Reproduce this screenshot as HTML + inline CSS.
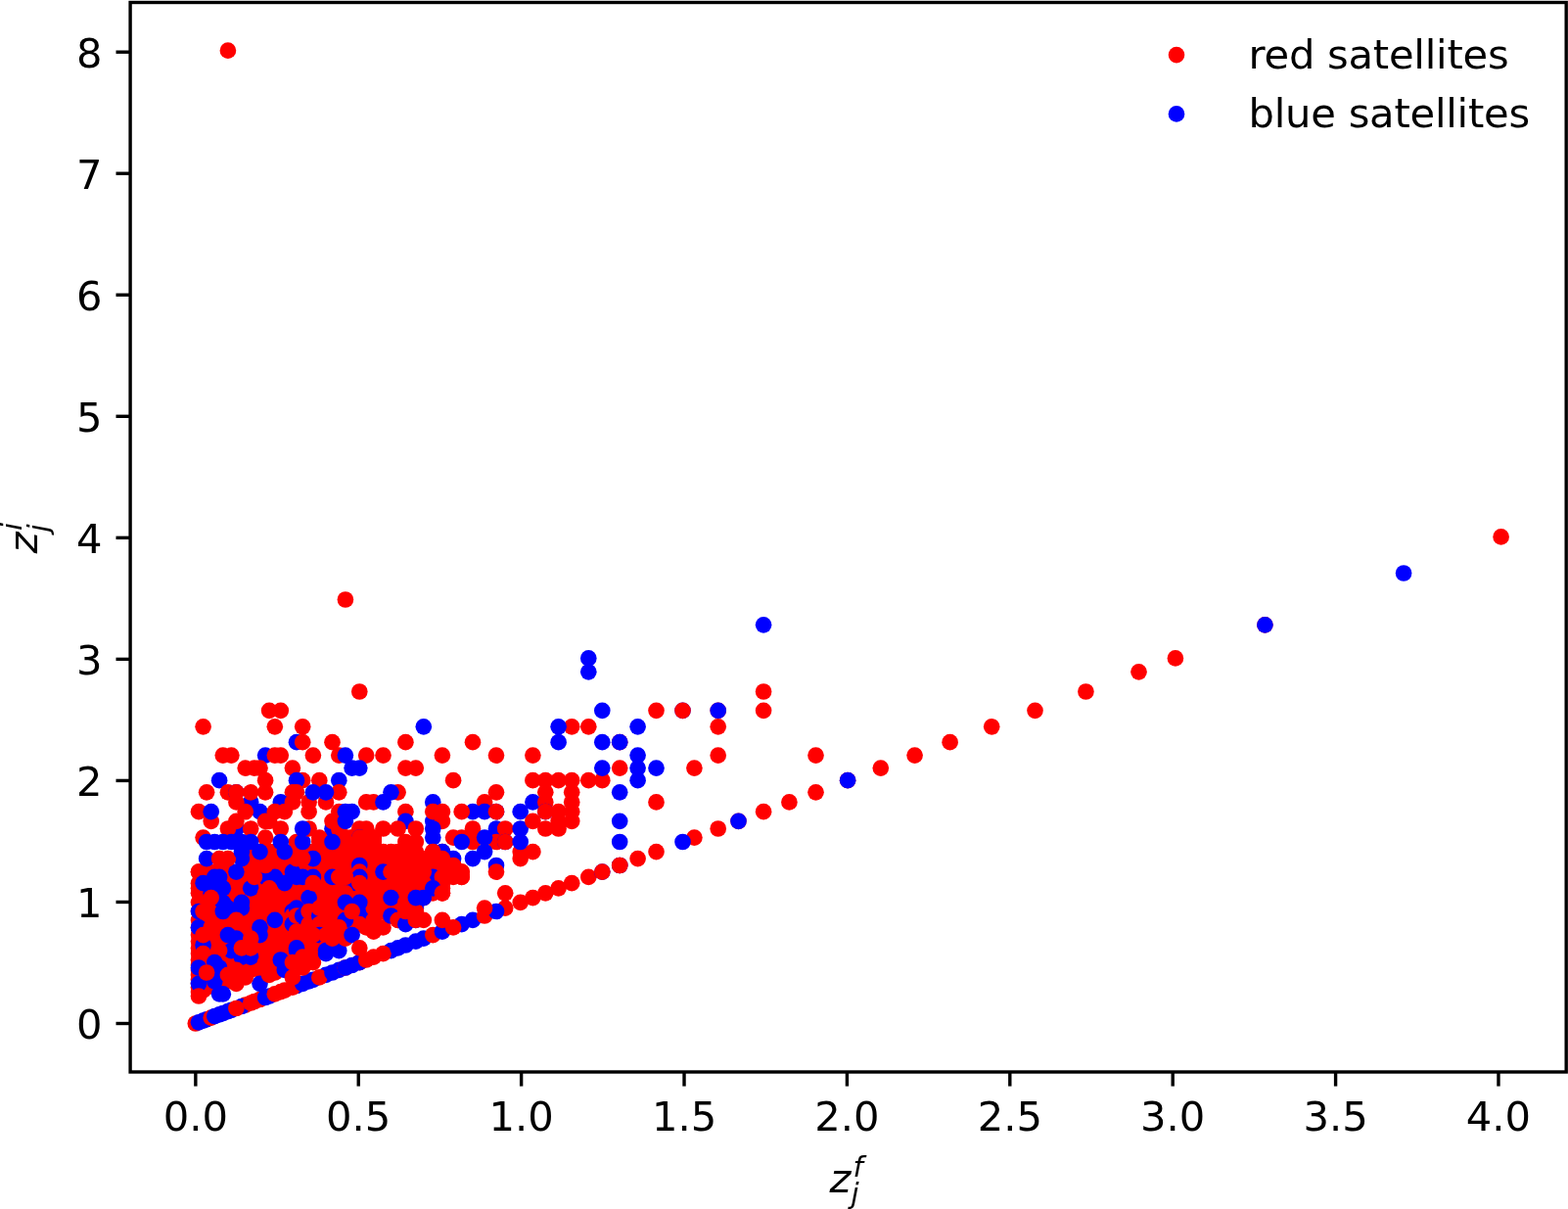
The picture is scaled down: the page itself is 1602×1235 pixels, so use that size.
<!DOCTYPE html>
<html lang="en">
<head>
<meta charset="utf-8">
<title>Satellite redshifts</title>
<style>
html,body{margin:0;padding:0;background:#fff;}
body{width:1602px;height:1235px;overflow:hidden;}
svg{display:block;}
text{font-family:"DejaVu Sans","Liberation Sans",sans-serif;fill:#000;}
.t{font-size:41.67px;}
.m{font-style:italic;}
.r{fill:#f00;}
.b{fill:#00f;}
</style>
</head>
<body>
<svg width="1602" height="1235" viewBox="0 0 1602 1235">
<rect x="0" y="0" width="1602" height="1235" fill="#fff"/>
<g id="pts">
<circle class="r" cx="203.0" cy="1013.1" r="8.33"/><circle class="r" cx="203.0" cy="1008.6" r="8.33"/><circle class="r" cx="203.0" cy="1004.8" r="8.33"/><circle class="r" cx="203.0" cy="1000.8" r="8.33"/>
<circle class="r" cx="203.0" cy="995.9" r="8.33"/><circle class="r" cx="203.0" cy="990.9" r="8.33"/><circle class="r" cx="203.0" cy="986.0" r="8.33"/><circle class="r" cx="203.0" cy="980.5" r="8.33"/>
<circle class="r" cx="203.0" cy="974.1" r="8.33"/><circle class="r" cx="203.0" cy="968.4" r="8.33"/><circle class="r" cx="203.0" cy="961.6" r="8.33"/><circle class="r" cx="203.0" cy="955.1" r="8.33"/>
<circle class="r" cx="203.0" cy="947.4" r="8.33"/><circle class="r" cx="203.0" cy="939.9" r="8.33"/><circle class="r" cx="203.0" cy="931.0" r="8.33"/><circle class="r" cx="203.0" cy="921.8" r="8.33"/>
<circle class="r" cx="203.0" cy="912.3" r="8.33"/><circle class="r" cx="203.0" cy="902.2" r="8.33"/><circle class="r" cx="203.0" cy="890.6" r="8.33"/><circle class="r" cx="207.6" cy="1011.6" r="8.33"/>
<circle class="r" cx="207.6" cy="1007.0" r="8.33"/><circle class="r" cx="207.6" cy="1002.4" r="8.33"/><circle class="r" cx="207.6" cy="998.4" r="8.33"/><circle class="r" cx="207.6" cy="993.5" r="8.33"/>
<circle class="r" cx="207.6" cy="988.5" r="8.33"/><circle class="r" cx="207.6" cy="983.1" r="8.33"/><circle class="r" cx="207.6" cy="977.7" r="8.33"/><circle class="r" cx="207.6" cy="971.1" r="8.33"/>
<circle class="r" cx="207.6" cy="965.5" r="8.33"/><circle class="r" cx="207.6" cy="958.7" r="8.33"/><circle class="r" cx="207.6" cy="951.6" r="8.33"/><circle class="r" cx="207.6" cy="944.2" r="8.33"/>
<circle class="r" cx="207.6" cy="935.5" r="8.33"/><circle class="r" cx="207.6" cy="927.6" r="8.33"/><circle class="r" cx="207.6" cy="917.1" r="8.33"/><circle class="r" cx="207.6" cy="907.3" r="8.33"/>
<circle class="r" cx="207.6" cy="895.9" r="8.33"/><circle class="r" cx="211.1" cy="1008.6" r="8.33"/><circle class="r" cx="211.1" cy="1004.8" r="8.33"/><circle class="r" cx="211.1" cy="1000.8" r="8.33"/>
<circle class="r" cx="211.1" cy="995.9" r="8.33"/><circle class="r" cx="211.1" cy="990.9" r="8.33"/><circle class="r" cx="211.1" cy="986.0" r="8.33"/><circle class="r" cx="211.1" cy="980.5" r="8.33"/>
<circle class="r" cx="211.1" cy="974.1" r="8.33"/><circle class="r" cx="211.1" cy="968.4" r="8.33"/><circle class="r" cx="211.1" cy="961.6" r="8.33"/><circle class="r" cx="211.1" cy="955.1" r="8.33"/>
<circle class="r" cx="211.1" cy="947.4" r="8.33"/><circle class="r" cx="211.1" cy="939.9" r="8.33"/><circle class="r" cx="211.1" cy="931.0" r="8.33"/><circle class="r" cx="211.1" cy="921.8" r="8.33"/>
<circle class="r" cx="211.1" cy="912.3" r="8.33"/><circle class="r" cx="211.1" cy="902.2" r="8.33"/><circle class="r" cx="211.1" cy="890.6" r="8.33"/><circle class="r" cx="215.7" cy="1007.0" r="8.33"/>
<circle class="r" cx="215.7" cy="1002.4" r="8.33"/><circle class="r" cx="215.7" cy="998.4" r="8.33"/><circle class="r" cx="215.7" cy="993.5" r="8.33"/><circle class="r" cx="215.7" cy="988.5" r="8.33"/>
<circle class="r" cx="215.7" cy="983.1" r="8.33"/><circle class="r" cx="215.7" cy="977.7" r="8.33"/><circle class="r" cx="215.7" cy="971.1" r="8.33"/><circle class="r" cx="215.7" cy="965.5" r="8.33"/>
<circle class="r" cx="215.7" cy="958.7" r="8.33"/><circle class="r" cx="215.7" cy="951.6" r="8.33"/><circle class="r" cx="215.7" cy="944.2" r="8.33"/><circle class="r" cx="215.7" cy="935.5" r="8.33"/>
<circle class="r" cx="215.7" cy="927.6" r="8.33"/><circle class="r" cx="215.7" cy="917.1" r="8.33"/><circle class="r" cx="215.7" cy="907.3" r="8.33"/><circle class="r" cx="215.7" cy="895.9" r="8.33"/>
<circle class="r" cx="219.3" cy="1004.8" r="8.33"/><circle class="r" cx="219.3" cy="1000.8" r="8.33"/><circle class="r" cx="219.3" cy="995.9" r="8.33"/><circle class="r" cx="219.3" cy="990.9" r="8.33"/>
<circle class="r" cx="219.3" cy="986.0" r="8.33"/><circle class="r" cx="219.3" cy="980.5" r="8.33"/><circle class="r" cx="219.3" cy="974.1" r="8.33"/><circle class="r" cx="219.3" cy="968.4" r="8.33"/>
<circle class="r" cx="219.3" cy="961.6" r="8.33"/><circle class="r" cx="219.3" cy="955.1" r="8.33"/><circle class="r" cx="219.3" cy="947.4" r="8.33"/><circle class="r" cx="219.3" cy="939.9" r="8.33"/>
<circle class="r" cx="219.3" cy="931.0" r="8.33"/><circle class="r" cx="219.3" cy="921.8" r="8.33"/><circle class="r" cx="219.3" cy="912.3" r="8.33"/><circle class="r" cx="219.3" cy="902.2" r="8.33"/>
<circle class="r" cx="219.3" cy="890.6" r="8.33"/><circle class="r" cx="224.1" cy="1002.4" r="8.33"/><circle class="r" cx="224.1" cy="998.4" r="8.33"/><circle class="r" cx="224.1" cy="993.5" r="8.33"/>
<circle class="r" cx="224.1" cy="988.5" r="8.33"/><circle class="r" cx="224.1" cy="983.1" r="8.33"/><circle class="r" cx="224.1" cy="977.7" r="8.33"/><circle class="r" cx="224.1" cy="971.1" r="8.33"/>
<circle class="r" cx="224.1" cy="965.5" r="8.33"/><circle class="r" cx="224.1" cy="958.7" r="8.33"/><circle class="r" cx="224.1" cy="951.6" r="8.33"/><circle class="r" cx="224.1" cy="944.2" r="8.33"/>
<circle class="r" cx="224.1" cy="935.5" r="8.33"/><circle class="r" cx="224.1" cy="927.6" r="8.33"/><circle class="r" cx="224.1" cy="917.1" r="8.33"/><circle class="r" cx="224.1" cy="907.3" r="8.33"/>
<circle class="r" cx="224.1" cy="895.9" r="8.33"/><circle class="r" cx="227.8" cy="1004.8" r="8.33"/><circle class="r" cx="227.8" cy="1000.8" r="8.33"/><circle class="r" cx="227.8" cy="995.9" r="8.33"/>
<circle class="r" cx="227.8" cy="990.9" r="8.33"/><circle class="r" cx="227.8" cy="986.0" r="8.33"/><circle class="r" cx="227.8" cy="980.5" r="8.33"/><circle class="r" cx="227.8" cy="974.1" r="8.33"/>
<circle class="r" cx="227.8" cy="968.4" r="8.33"/><circle class="r" cx="227.8" cy="961.6" r="8.33"/><circle class="r" cx="227.8" cy="955.1" r="8.33"/><circle class="r" cx="227.8" cy="947.4" r="8.33"/>
<circle class="r" cx="227.8" cy="939.9" r="8.33"/><circle class="r" cx="227.8" cy="931.0" r="8.33"/><circle class="r" cx="227.8" cy="921.8" r="8.33"/><circle class="r" cx="227.8" cy="912.3" r="8.33"/>
<circle class="r" cx="227.8" cy="902.2" r="8.33"/><circle class="r" cx="227.8" cy="890.6" r="8.33"/><circle class="r" cx="232.9" cy="1002.4" r="8.33"/><circle class="r" cx="232.9" cy="998.4" r="8.33"/>
<circle class="r" cx="232.9" cy="993.5" r="8.33"/><circle class="r" cx="232.9" cy="988.5" r="8.33"/><circle class="r" cx="232.9" cy="983.1" r="8.33"/><circle class="r" cx="232.9" cy="977.7" r="8.33"/>
<circle class="r" cx="232.9" cy="971.1" r="8.33"/><circle class="r" cx="232.9" cy="965.5" r="8.33"/><circle class="r" cx="232.9" cy="958.7" r="8.33"/><circle class="r" cx="232.9" cy="951.6" r="8.33"/>
<circle class="r" cx="232.9" cy="944.2" r="8.33"/><circle class="r" cx="232.9" cy="935.5" r="8.33"/><circle class="r" cx="232.9" cy="927.6" r="8.33"/><circle class="r" cx="232.9" cy="917.1" r="8.33"/>
<circle class="r" cx="232.9" cy="907.3" r="8.33"/><circle class="r" cx="232.9" cy="895.9" r="8.33"/><circle class="r" cx="236.4" cy="1000.8" r="8.33"/><circle class="r" cx="236.4" cy="995.9" r="8.33"/>
<circle class="r" cx="236.4" cy="990.9" r="8.33"/><circle class="r" cx="236.4" cy="986.0" r="8.33"/><circle class="r" cx="236.4" cy="980.5" r="8.33"/><circle class="r" cx="236.4" cy="974.1" r="8.33"/>
<circle class="r" cx="236.4" cy="968.4" r="8.33"/><circle class="r" cx="236.4" cy="961.6" r="8.33"/><circle class="r" cx="236.4" cy="955.1" r="8.33"/><circle class="r" cx="236.4" cy="947.4" r="8.33"/>
<circle class="r" cx="236.4" cy="939.9" r="8.33"/><circle class="r" cx="236.4" cy="931.0" r="8.33"/><circle class="r" cx="236.4" cy="921.8" r="8.33"/><circle class="r" cx="236.4" cy="912.3" r="8.33"/>
<circle class="r" cx="236.4" cy="902.2" r="8.33"/><circle class="r" cx="236.4" cy="890.6" r="8.33"/><circle class="r" cx="241.4" cy="998.4" r="8.33"/><circle class="r" cx="241.4" cy="993.5" r="8.33"/>
<circle class="r" cx="241.4" cy="988.5" r="8.33"/><circle class="r" cx="241.4" cy="983.1" r="8.33"/><circle class="r" cx="241.4" cy="977.7" r="8.33"/><circle class="r" cx="241.4" cy="971.1" r="8.33"/>
<circle class="r" cx="241.4" cy="965.5" r="8.33"/><circle class="r" cx="241.4" cy="958.7" r="8.33"/><circle class="r" cx="241.4" cy="951.6" r="8.33"/><circle class="r" cx="241.4" cy="944.2" r="8.33"/>
<circle class="r" cx="241.4" cy="935.5" r="8.33"/><circle class="r" cx="241.4" cy="927.6" r="8.33"/><circle class="r" cx="241.4" cy="917.1" r="8.33"/><circle class="r" cx="241.4" cy="907.3" r="8.33"/>
<circle class="r" cx="241.4" cy="895.9" r="8.33"/><circle class="r" cx="246.9" cy="995.9" r="8.33"/><circle class="r" cx="246.9" cy="990.9" r="8.33"/><circle class="r" cx="246.9" cy="986.0" r="8.33"/>
<circle class="r" cx="246.9" cy="980.5" r="8.33"/><circle class="r" cx="246.9" cy="974.1" r="8.33"/><circle class="r" cx="246.9" cy="968.4" r="8.33"/><circle class="r" cx="246.9" cy="961.6" r="8.33"/>
<circle class="r" cx="246.9" cy="955.1" r="8.33"/><circle class="r" cx="246.9" cy="947.4" r="8.33"/><circle class="r" cx="246.9" cy="939.9" r="8.33"/><circle class="r" cx="246.9" cy="931.0" r="8.33"/>
<circle class="r" cx="246.9" cy="921.8" r="8.33"/><circle class="r" cx="246.9" cy="912.3" r="8.33"/><circle class="r" cx="246.9" cy="902.2" r="8.33"/><circle class="r" cx="246.9" cy="890.6" r="8.33"/>
<circle class="r" cx="250.7" cy="993.5" r="8.33"/><circle class="r" cx="250.7" cy="988.5" r="8.33"/><circle class="r" cx="250.7" cy="983.1" r="8.33"/><circle class="r" cx="250.7" cy="977.7" r="8.33"/>
<circle class="r" cx="250.7" cy="971.1" r="8.33"/><circle class="r" cx="250.7" cy="965.5" r="8.33"/><circle class="r" cx="250.7" cy="958.7" r="8.33"/><circle class="r" cx="250.7" cy="951.6" r="8.33"/>
<circle class="r" cx="250.7" cy="944.2" r="8.33"/><circle class="r" cx="250.7" cy="935.5" r="8.33"/><circle class="r" cx="250.7" cy="927.6" r="8.33"/><circle class="r" cx="250.7" cy="917.1" r="8.33"/>
<circle class="r" cx="250.7" cy="907.3" r="8.33"/><circle class="r" cx="250.7" cy="895.9" r="8.33"/><circle class="r" cx="256.2" cy="990.9" r="8.33"/><circle class="r" cx="256.2" cy="986.0" r="8.33"/>
<circle class="r" cx="256.2" cy="980.5" r="8.33"/><circle class="r" cx="256.2" cy="974.1" r="8.33"/><circle class="r" cx="256.2" cy="968.4" r="8.33"/><circle class="r" cx="256.2" cy="961.6" r="8.33"/>
<circle class="r" cx="256.2" cy="955.1" r="8.33"/><circle class="r" cx="256.2" cy="947.4" r="8.33"/><circle class="r" cx="256.2" cy="939.9" r="8.33"/><circle class="r" cx="256.2" cy="931.0" r="8.33"/>
<circle class="r" cx="256.2" cy="921.8" r="8.33"/><circle class="r" cx="256.2" cy="912.3" r="8.33"/><circle class="r" cx="256.2" cy="902.2" r="8.33"/><circle class="r" cx="256.2" cy="890.6" r="8.33"/>
<circle class="r" cx="259.9" cy="988.5" r="8.33"/><circle class="r" cx="259.9" cy="983.1" r="8.33"/><circle class="r" cx="259.9" cy="977.7" r="8.33"/><circle class="r" cx="259.9" cy="971.1" r="8.33"/>
<circle class="r" cx="259.9" cy="965.5" r="8.33"/><circle class="r" cx="259.9" cy="958.7" r="8.33"/><circle class="r" cx="259.9" cy="951.6" r="8.33"/><circle class="r" cx="259.9" cy="944.2" r="8.33"/>
<circle class="r" cx="259.9" cy="935.5" r="8.33"/><circle class="r" cx="259.9" cy="927.6" r="8.33"/><circle class="r" cx="259.9" cy="917.1" r="8.33"/><circle class="r" cx="259.9" cy="907.3" r="8.33"/>
<circle class="r" cx="259.9" cy="895.9" r="8.33"/><circle class="r" cx="265.5" cy="990.9" r="8.33"/><circle class="r" cx="265.5" cy="986.0" r="8.33"/><circle class="r" cx="265.5" cy="980.5" r="8.33"/>
<circle class="r" cx="265.5" cy="974.1" r="8.33"/><circle class="r" cx="265.5" cy="968.4" r="8.33"/><circle class="r" cx="265.5" cy="961.6" r="8.33"/><circle class="r" cx="265.5" cy="955.1" r="8.33"/>
<circle class="r" cx="265.5" cy="947.4" r="8.33"/><circle class="r" cx="265.5" cy="939.9" r="8.33"/><circle class="r" cx="265.5" cy="931.0" r="8.33"/><circle class="r" cx="265.5" cy="921.8" r="8.33"/>
<circle class="r" cx="265.5" cy="912.3" r="8.33"/><circle class="r" cx="265.5" cy="902.2" r="8.33"/><circle class="r" cx="265.5" cy="890.6" r="8.33"/><circle class="r" cx="271.1" cy="988.5" r="8.33"/>
<circle class="r" cx="271.1" cy="983.1" r="8.33"/><circle class="r" cx="271.1" cy="977.7" r="8.33"/><circle class="r" cx="271.1" cy="971.1" r="8.33"/><circle class="r" cx="271.1" cy="965.5" r="8.33"/>
<circle class="r" cx="271.1" cy="958.7" r="8.33"/><circle class="r" cx="271.1" cy="951.6" r="8.33"/><circle class="r" cx="271.1" cy="944.2" r="8.33"/><circle class="r" cx="271.1" cy="935.5" r="8.33"/>
<circle class="r" cx="271.1" cy="927.6" r="8.33"/><circle class="r" cx="271.1" cy="917.1" r="8.33"/><circle class="r" cx="271.1" cy="907.3" r="8.33"/><circle class="r" cx="271.1" cy="895.9" r="8.33"/>
<circle class="r" cx="275.1" cy="986.0" r="8.33"/><circle class="r" cx="275.1" cy="980.5" r="8.33"/><circle class="r" cx="275.1" cy="974.1" r="8.33"/><circle class="r" cx="275.1" cy="968.4" r="8.33"/>
<circle class="r" cx="275.1" cy="961.6" r="8.33"/><circle class="r" cx="275.1" cy="955.1" r="8.33"/><circle class="r" cx="275.1" cy="947.4" r="8.33"/><circle class="r" cx="275.1" cy="939.9" r="8.33"/>
<circle class="r" cx="275.1" cy="931.0" r="8.33"/><circle class="r" cx="275.1" cy="921.8" r="8.33"/><circle class="r" cx="275.1" cy="912.3" r="8.33"/><circle class="r" cx="275.1" cy="902.2" r="8.33"/>
<circle class="r" cx="275.1" cy="890.6" r="8.33"/><circle class="r" cx="280.8" cy="983.1" r="8.33"/><circle class="r" cx="280.8" cy="977.7" r="8.33"/><circle class="r" cx="280.8" cy="971.1" r="8.33"/>
<circle class="r" cx="280.8" cy="965.5" r="8.33"/><circle class="r" cx="280.8" cy="958.7" r="8.33"/><circle class="r" cx="280.8" cy="951.6" r="8.33"/><circle class="r" cx="280.8" cy="944.2" r="8.33"/>
<circle class="r" cx="280.8" cy="935.5" r="8.33"/><circle class="r" cx="280.8" cy="927.6" r="8.33"/><circle class="r" cx="280.8" cy="917.1" r="8.33"/><circle class="r" cx="280.8" cy="907.3" r="8.33"/>
<circle class="r" cx="280.8" cy="895.9" r="8.33"/><circle class="r" cx="286.8" cy="980.5" r="8.33"/><circle class="r" cx="286.8" cy="974.1" r="8.33"/><circle class="r" cx="286.8" cy="968.4" r="8.33"/>
<circle class="r" cx="286.8" cy="961.6" r="8.33"/><circle class="r" cx="286.8" cy="955.1" r="8.33"/><circle class="r" cx="286.8" cy="947.4" r="8.33"/><circle class="r" cx="286.8" cy="939.9" r="8.33"/>
<circle class="r" cx="286.8" cy="931.0" r="8.33"/><circle class="r" cx="286.8" cy="921.8" r="8.33"/><circle class="r" cx="286.8" cy="912.3" r="8.33"/><circle class="r" cx="286.8" cy="902.2" r="8.33"/>
<circle class="r" cx="286.8" cy="890.6" r="8.33"/><circle class="r" cx="290.8" cy="977.7" r="8.33"/><circle class="r" cx="290.8" cy="971.1" r="8.33"/><circle class="r" cx="290.8" cy="965.5" r="8.33"/>
<circle class="r" cx="290.8" cy="958.7" r="8.33"/><circle class="r" cx="290.8" cy="951.6" r="8.33"/><circle class="r" cx="290.8" cy="944.2" r="8.33"/><circle class="r" cx="290.8" cy="935.5" r="8.33"/>
<circle class="r" cx="290.8" cy="927.6" r="8.33"/><circle class="r" cx="290.8" cy="917.1" r="8.33"/><circle class="r" cx="290.8" cy="907.3" r="8.33"/><circle class="r" cx="290.8" cy="895.9" r="8.33"/>
<circle class="r" cx="298.9" cy="974.1" r="8.33"/><circle class="r" cx="298.9" cy="968.4" r="8.33"/><circle class="r" cx="298.9" cy="961.6" r="8.33"/><circle class="r" cx="298.9" cy="955.1" r="8.33"/>
<circle class="r" cx="298.9" cy="947.4" r="8.33"/><circle class="r" cx="298.9" cy="939.9" r="8.33"/><circle class="r" cx="298.9" cy="931.0" r="8.33"/><circle class="r" cx="298.9" cy="921.8" r="8.33"/>
<circle class="r" cx="298.9" cy="912.3" r="8.33"/><circle class="r" cx="298.9" cy="902.2" r="8.33"/><circle class="r" cx="298.9" cy="890.6" r="8.33"/><circle class="r" cx="303.0" cy="971.1" r="8.33"/>
<circle class="r" cx="303.0" cy="965.5" r="8.33"/><circle class="r" cx="303.0" cy="958.7" r="8.33"/><circle class="r" cx="303.0" cy="951.6" r="8.33"/><circle class="r" cx="303.0" cy="944.2" r="8.33"/>
<circle class="r" cx="303.0" cy="935.5" r="8.33"/><circle class="r" cx="303.0" cy="927.6" r="8.33"/><circle class="r" cx="303.0" cy="917.1" r="8.33"/><circle class="r" cx="303.0" cy="907.3" r="8.33"/>
<circle class="r" cx="303.0" cy="895.9" r="8.33"/><circle class="r" cx="309.2" cy="974.1" r="8.33"/><circle class="r" cx="309.2" cy="968.4" r="8.33"/><circle class="r" cx="309.2" cy="961.6" r="8.33"/>
<circle class="r" cx="309.2" cy="955.1" r="8.33"/><circle class="r" cx="309.2" cy="947.4" r="8.33"/><circle class="r" cx="309.2" cy="939.9" r="8.33"/><circle class="r" cx="309.2" cy="931.0" r="8.33"/>
<circle class="r" cx="309.2" cy="921.8" r="8.33"/><circle class="r" cx="309.2" cy="912.3" r="8.33"/><circle class="r" cx="309.2" cy="902.2" r="8.33"/><circle class="r" cx="309.2" cy="890.6" r="8.33"/>
<circle class="r" cx="315.6" cy="971.1" r="8.33"/><circle class="r" cx="315.6" cy="965.5" r="8.33"/><circle class="r" cx="315.6" cy="958.7" r="8.33"/><circle class="r" cx="315.6" cy="951.6" r="8.33"/>
<circle class="r" cx="315.6" cy="944.2" r="8.33"/><circle class="r" cx="315.6" cy="935.5" r="8.33"/><circle class="r" cx="315.6" cy="927.6" r="8.33"/><circle class="r" cx="315.6" cy="917.1" r="8.33"/>
<circle class="r" cx="315.6" cy="907.3" r="8.33"/><circle class="r" cx="315.6" cy="895.9" r="8.33"/><circle class="r" cx="319.9" cy="968.4" r="8.33"/><circle class="r" cx="319.9" cy="961.6" r="8.33"/>
<circle class="r" cx="319.9" cy="955.1" r="8.33"/><circle class="r" cx="319.9" cy="947.4" r="8.33"/><circle class="r" cx="319.9" cy="939.9" r="8.33"/><circle class="r" cx="319.9" cy="931.0" r="8.33"/>
<circle class="r" cx="319.9" cy="921.8" r="8.33"/><circle class="r" cx="319.9" cy="912.3" r="8.33"/><circle class="r" cx="319.9" cy="902.2" r="8.33"/><circle class="r" cx="319.9" cy="890.6" r="8.33"/>
<circle class="r" cx="326.3" cy="965.5" r="8.33"/><circle class="r" cx="326.3" cy="958.7" r="8.33"/><circle class="r" cx="326.3" cy="951.6" r="8.33"/><circle class="r" cx="326.3" cy="944.2" r="8.33"/>
<circle class="r" cx="326.3" cy="935.5" r="8.33"/><circle class="r" cx="326.3" cy="927.6" r="8.33"/><circle class="r" cx="326.3" cy="917.1" r="8.33"/><circle class="r" cx="326.3" cy="907.3" r="8.33"/>
<circle class="r" cx="326.3" cy="895.9" r="8.33"/><circle class="r" cx="333.0" cy="961.6" r="8.33"/><circle class="r" cx="333.0" cy="955.1" r="8.33"/><circle class="r" cx="333.0" cy="947.4" r="8.33"/>
<circle class="r" cx="333.0" cy="939.9" r="8.33"/><circle class="r" cx="333.0" cy="931.0" r="8.33"/><circle class="r" cx="333.0" cy="921.8" r="8.33"/><circle class="r" cx="333.0" cy="912.3" r="8.33"/>
<circle class="r" cx="333.0" cy="902.2" r="8.33"/><circle class="r" cx="333.0" cy="890.6" r="8.33"/><circle class="r" cx="339.5" cy="958.7" r="8.33"/><circle class="r" cx="339.5" cy="951.6" r="8.33"/>
<circle class="r" cx="339.5" cy="944.2" r="8.33"/><circle class="r" cx="339.5" cy="935.5" r="8.33"/><circle class="r" cx="339.5" cy="927.6" r="8.33"/><circle class="r" cx="339.5" cy="917.1" r="8.33"/>
<circle class="r" cx="339.5" cy="907.3" r="8.33"/><circle class="r" cx="339.5" cy="895.9" r="8.33"/><circle class="r" cx="346.3" cy="955.1" r="8.33"/><circle class="r" cx="346.3" cy="947.4" r="8.33"/>
<circle class="r" cx="346.3" cy="939.9" r="8.33"/><circle class="r" cx="346.3" cy="931.0" r="8.33"/><circle class="r" cx="346.3" cy="921.8" r="8.33"/><circle class="r" cx="346.3" cy="912.3" r="8.33"/>
<circle class="r" cx="346.3" cy="902.2" r="8.33"/><circle class="r" cx="346.3" cy="890.6" r="8.33"/><circle class="r" cx="352.9" cy="951.6" r="8.33"/><circle class="r" cx="352.9" cy="944.2" r="8.33"/>
<circle class="r" cx="352.9" cy="935.5" r="8.33"/><circle class="r" cx="352.9" cy="927.6" r="8.33"/><circle class="r" cx="352.9" cy="917.1" r="8.33"/><circle class="r" cx="352.9" cy="907.3" r="8.33"/>
<circle class="r" cx="352.9" cy="895.9" r="8.33"/><circle class="r" cx="359.6" cy="947.4" r="8.33"/><circle class="r" cx="359.6" cy="939.9" r="8.33"/><circle class="r" cx="359.6" cy="931.0" r="8.33"/>
<circle class="r" cx="359.6" cy="921.8" r="8.33"/><circle class="r" cx="359.6" cy="912.3" r="8.33"/><circle class="r" cx="359.6" cy="902.2" r="8.33"/><circle class="r" cx="359.6" cy="890.6" r="8.33"/>
<circle class="r" cx="367.3" cy="944.2" r="8.33"/><circle class="r" cx="367.3" cy="935.5" r="8.33"/><circle class="r" cx="367.3" cy="927.6" r="8.33"/><circle class="r" cx="367.3" cy="917.1" r="8.33"/>
<circle class="r" cx="367.3" cy="907.3" r="8.33"/><circle class="r" cx="367.3" cy="895.9" r="8.33"/><circle class="r" cx="374.2" cy="939.9" r="8.33"/><circle class="r" cx="374.2" cy="931.0" r="8.33"/>
<circle class="r" cx="374.2" cy="921.8" r="8.33"/><circle class="r" cx="374.2" cy="912.3" r="8.33"/><circle class="r" cx="374.2" cy="902.2" r="8.33"/><circle class="r" cx="374.2" cy="890.6" r="8.33"/>
<circle class="r" cx="381.7" cy="935.5" r="8.33"/><circle class="r" cx="381.7" cy="927.6" r="8.33"/><circle class="r" cx="381.7" cy="917.1" r="8.33"/><circle class="r" cx="381.7" cy="907.3" r="8.33"/>
<circle class="r" cx="381.7" cy="895.9" r="8.33"/><circle class="r" cx="391.5" cy="931.0" r="8.33"/><circle class="r" cx="391.5" cy="921.8" r="8.33"/><circle class="r" cx="391.5" cy="912.3" r="8.33"/>
<circle class="r" cx="391.5" cy="902.2" r="8.33"/><circle class="r" cx="391.5" cy="890.6" r="8.33"/><circle class="r" cx="399.5" cy="927.6" r="8.33"/><circle class="r" cx="399.5" cy="917.1" r="8.33"/>
<circle class="r" cx="399.5" cy="907.3" r="8.33"/><circle class="r" cx="399.5" cy="895.9" r="8.33"/><circle class="r" cx="256.2" cy="884.0" r="8.33"/><circle class="r" cx="256.2" cy="877.1" r="8.33"/>
<circle class="r" cx="256.2" cy="870.1" r="8.33"/><circle class="r" cx="259.9" cy="884.0" r="8.33"/><circle class="r" cx="259.9" cy="877.1" r="8.33"/><circle class="r" cx="259.9" cy="870.1" r="8.33"/>
<circle class="r" cx="265.5" cy="884.0" r="8.33"/><circle class="r" cx="265.5" cy="877.1" r="8.33"/><circle class="r" cx="265.5" cy="870.1" r="8.33"/><circle class="r" cx="271.1" cy="884.0" r="8.33"/>
<circle class="r" cx="271.1" cy="877.1" r="8.33"/><circle class="r" cx="271.1" cy="870.1" r="8.33"/><circle class="r" cx="275.1" cy="884.0" r="8.33"/><circle class="r" cx="275.1" cy="877.1" r="8.33"/>
<circle class="r" cx="275.1" cy="870.1" r="8.33"/><circle class="r" cx="280.8" cy="884.0" r="8.33"/><circle class="r" cx="280.8" cy="877.1" r="8.33"/><circle class="r" cx="280.8" cy="870.1" r="8.33"/>
<circle class="r" cx="286.8" cy="884.0" r="8.33"/><circle class="r" cx="286.8" cy="877.1" r="8.33"/><circle class="r" cx="286.8" cy="870.1" r="8.33"/><circle class="r" cx="290.8" cy="884.0" r="8.33"/>
<circle class="r" cx="290.8" cy="877.1" r="8.33"/><circle class="r" cx="290.8" cy="870.1" r="8.33"/><circle class="r" cx="298.9" cy="884.0" r="8.33"/><circle class="r" cx="298.9" cy="877.1" r="8.33"/>
<circle class="r" cx="298.9" cy="870.1" r="8.33"/><circle class="r" cx="303.0" cy="884.0" r="8.33"/><circle class="r" cx="303.0" cy="877.1" r="8.33"/><circle class="r" cx="303.0" cy="870.1" r="8.33"/>
<circle class="r" cx="309.2" cy="884.0" r="8.33"/><circle class="r" cx="309.2" cy="877.1" r="8.33"/><circle class="r" cx="309.2" cy="870.1" r="8.33"/><circle class="r" cx="315.6" cy="884.0" r="8.33"/>
<circle class="r" cx="315.6" cy="877.1" r="8.33"/><circle class="r" cx="315.6" cy="870.1" r="8.33"/><circle class="r" cx="319.9" cy="884.0" r="8.33"/><circle class="r" cx="319.9" cy="877.1" r="8.33"/>
<circle class="r" cx="319.9" cy="870.1" r="8.33"/><circle class="r" cx="326.3" cy="884.0" r="8.33"/><circle class="r" cx="326.3" cy="877.1" r="8.33"/><circle class="r" cx="326.3" cy="870.1" r="8.33"/>
<circle class="r" cx="333.0" cy="884.0" r="8.33"/><circle class="r" cx="333.0" cy="877.1" r="8.33"/><circle class="r" cx="333.0" cy="870.1" r="8.33"/><circle class="r" cx="339.5" cy="884.0" r="8.33"/>
<circle class="r" cx="339.5" cy="877.1" r="8.33"/><circle class="r" cx="339.5" cy="870.1" r="8.33"/><circle class="r" cx="346.3" cy="884.0" r="8.33"/><circle class="r" cx="346.3" cy="877.1" r="8.33"/>
<circle class="r" cx="346.3" cy="870.1" r="8.33"/><circle class="r" cx="352.9" cy="884.0" r="8.33"/><circle class="r" cx="352.9" cy="877.1" r="8.33"/><circle class="r" cx="352.9" cy="870.1" r="8.33"/>
<circle class="r" cx="359.6" cy="884.0" r="8.33"/><circle class="r" cx="359.6" cy="877.1" r="8.33"/><circle class="r" cx="359.6" cy="870.1" r="8.33"/><circle class="r" cx="367.3" cy="884.0" r="8.33"/>
<circle class="r" cx="367.3" cy="877.1" r="8.33"/><circle class="r" cx="367.3" cy="870.1" r="8.33"/><circle class="r" cx="374.2" cy="884.0" r="8.33"/><circle class="r" cx="374.2" cy="877.1" r="8.33"/>
<circle class="r" cx="374.2" cy="870.1" r="8.33"/><circle class="r" cx="381.7" cy="884.0" r="8.33"/><circle class="r" cx="381.7" cy="877.1" r="8.33"/><circle class="r" cx="381.7" cy="870.1" r="8.33"/>
<circle class="r" cx="391.5" cy="884.0" r="8.33"/><circle class="r" cx="391.5" cy="877.1" r="8.33"/><circle class="r" cx="391.5" cy="870.1" r="8.33"/><circle class="r" cx="399.5" cy="884.0" r="8.33"/>
<circle class="r" cx="399.5" cy="877.1" r="8.33"/><circle class="r" cx="399.5" cy="870.1" r="8.33"/><circle class="r" cx="339.5" cy="860.0" r="8.33"/><circle class="r" cx="339.5" cy="855.6" r="8.33"/>
<circle class="r" cx="346.3" cy="860.0" r="8.33"/><circle class="r" cx="346.3" cy="855.6" r="8.33"/><circle class="r" cx="352.9" cy="860.0" r="8.33"/><circle class="r" cx="352.9" cy="855.6" r="8.33"/>
<circle class="r" cx="359.6" cy="860.0" r="8.33"/><circle class="r" cx="359.6" cy="855.6" r="8.33"/><circle class="r" cx="367.3" cy="860.0" r="8.33"/><circle class="r" cx="367.3" cy="855.6" r="8.33"/>
<circle class="r" cx="374.2" cy="860.0" r="8.33"/><circle class="r" cx="374.2" cy="855.6" r="8.33"/><circle class="r" cx="381.7" cy="860.0" r="8.33"/><circle class="r" cx="381.7" cy="855.6" r="8.33"/>
<circle class="r" cx="406.6" cy="939.9" r="8.33"/><circle class="r" cx="406.6" cy="935.5" r="8.33"/><circle class="r" cx="406.6" cy="931.0" r="8.33"/><circle class="r" cx="406.6" cy="927.6" r="8.33"/>
<circle class="r" cx="406.6" cy="921.8" r="8.33"/><circle class="r" cx="406.6" cy="917.1" r="8.33"/><circle class="r" cx="406.6" cy="912.3" r="8.33"/><circle class="r" cx="406.6" cy="907.3" r="8.33"/>
<circle class="r" cx="406.6" cy="902.2" r="8.33"/><circle class="r" cx="406.6" cy="895.9" r="8.33"/><circle class="r" cx="406.6" cy="890.6" r="8.33"/><circle class="r" cx="406.6" cy="884.0" r="8.33"/>
<circle class="r" cx="406.6" cy="877.1" r="8.33"/><circle class="r" cx="406.6" cy="870.1" r="8.33"/><circle class="r" cx="414.4" cy="939.9" r="8.33"/><circle class="r" cx="414.4" cy="935.5" r="8.33"/>
<circle class="r" cx="414.4" cy="931.0" r="8.33"/><circle class="r" cx="414.4" cy="927.6" r="8.33"/><circle class="r" cx="414.4" cy="921.8" r="8.33"/><circle class="r" cx="414.4" cy="917.1" r="8.33"/>
<circle class="r" cx="414.4" cy="912.3" r="8.33"/><circle class="r" cx="414.4" cy="907.3" r="8.33"/><circle class="r" cx="414.4" cy="902.2" r="8.33"/><circle class="r" cx="414.4" cy="895.9" r="8.33"/>
<circle class="r" cx="414.4" cy="890.6" r="8.33"/><circle class="r" cx="414.4" cy="884.0" r="8.33"/><circle class="r" cx="414.4" cy="877.1" r="8.33"/><circle class="r" cx="414.4" cy="870.1" r="8.33"/>
<circle class="r" cx="424.8" cy="927.6" r="8.33"/><circle class="r" cx="424.8" cy="921.8" r="8.33"/><circle class="r" cx="424.8" cy="917.1" r="8.33"/><circle class="r" cx="424.8" cy="912.3" r="8.33"/>
<circle class="r" cx="424.8" cy="907.3" r="8.33"/><circle class="r" cx="424.8" cy="902.2" r="8.33"/><circle class="r" cx="424.8" cy="895.9" r="8.33"/><circle class="r" cx="424.8" cy="890.6" r="8.33"/>
<circle class="r" cx="424.8" cy="884.0" r="8.33"/><circle class="r" cx="424.8" cy="877.1" r="8.33"/><circle class="r" cx="424.8" cy="870.1" r="8.33"/><circle class="r" cx="432.8" cy="917.1" r="8.33"/>
<circle class="r" cx="432.8" cy="912.3" r="8.33"/><circle class="r" cx="432.8" cy="907.3" r="8.33"/><circle class="r" cx="432.8" cy="902.2" r="8.33"/><circle class="r" cx="432.8" cy="895.9" r="8.33"/>
<circle class="r" cx="432.8" cy="890.6" r="8.33"/><circle class="r" cx="432.8" cy="884.0" r="8.33"/><circle class="r" cx="432.8" cy="877.1" r="8.33"/><circle class="r" cx="442.3" cy="912.3" r="8.33"/>
<circle class="r" cx="442.3" cy="907.3" r="8.33"/><circle class="r" cx="442.3" cy="902.2" r="8.33"/><circle class="r" cx="442.3" cy="895.9" r="8.33"/><circle class="r" cx="442.3" cy="890.6" r="8.33"/>
<circle class="r" cx="442.3" cy="884.0" r="8.33"/><circle class="r" cx="442.3" cy="877.1" r="8.33"/><circle class="r" cx="442.3" cy="870.1" r="8.33"/><circle class="r" cx="451.9" cy="912.3" r="8.33"/>
<circle class="r" cx="451.9" cy="907.3" r="8.33"/><circle class="r" cx="451.9" cy="902.2" r="8.33"/><circle class="r" cx="451.9" cy="895.9" r="8.33"/><circle class="r" cx="451.9" cy="890.6" r="8.33"/>
<circle class="r" cx="451.9" cy="884.0" r="8.33"/><circle class="r" cx="451.9" cy="877.1" r="8.33"/><circle class="r" cx="451.9" cy="870.1" r="8.33"/><circle class="r" cx="463.1" cy="895.9" r="8.33"/>
<circle class="r" cx="463.1" cy="890.6" r="8.33"/><circle class="r" cx="463.1" cy="884.0" r="8.33"/><circle class="r" cx="471.7" cy="895.9" r="8.33"/><circle class="r" cx="471.7" cy="890.6" r="8.33"/>
<circle class="r" cx="1533.6" cy="548.4" r="8.33"/><circle class="b" cx="1434.1" cy="585.5" r="8.33"/><circle class="r" cx="1292.4" cy="638.3" r="8.33"/><circle class="b" cx="1292.4" cy="638.3" r="8.33"/>
<circle class="r" cx="1200.9" cy="672.4" r="8.33"/><circle class="r" cx="1163.5" cy="686.3" r="8.33"/><circle class="r" cx="1109.4" cy="706.5" r="8.33"/><circle class="r" cx="1057.5" cy="725.8" r="8.33"/>
<circle class="r" cx="1013.2" cy="742.3" r="8.33"/><circle class="r" cx="970.6" cy="758.2" r="8.33"/><circle class="r" cx="934.6" cy="771.6" r="8.33"/><circle class="r" cx="899.8" cy="784.6" r="8.33"/>
<circle class="r" cx="866.1" cy="797.2" r="8.33"/><circle class="b" cx="866.1" cy="797.2" r="8.33"/><circle class="r" cx="833.5" cy="809.3" r="8.33"/><circle class="r" cx="806.4" cy="819.4" r="8.33"/>
<circle class="r" cx="780.1" cy="829.2" r="8.33"/><circle class="r" cx="754.5" cy="838.8" r="8.33"/><circle class="b" cx="754.5" cy="838.8" r="8.33"/><circle class="r" cx="733.7" cy="846.5" r="8.33"/>
<circle class="r" cx="232.9" cy="51.7" r="8.33"/><circle class="r" cx="352.9" cy="612.5" r="8.33"/><circle class="b" cx="780.1" cy="638.3" r="8.33"/><circle class="r" cx="780.1" cy="706.5" r="8.33"/>
<circle class="r" cx="780.1" cy="725.8" r="8.33"/><circle class="r" cx="833.5" cy="771.6" r="8.33"/><circle class="b" cx="601.3" cy="672.4" r="8.33"/><circle class="b" cx="601.3" cy="686.3" r="8.33"/>
<circle class="b" cx="615.3" cy="725.8" r="8.33"/><circle class="r" cx="670.5" cy="725.8" r="8.33"/><circle class="b" cx="697.5" cy="725.8" r="8.33"/><circle class="r" cx="697.5" cy="725.8" r="8.33"/>
<circle class="r" cx="733.7" cy="725.8" r="8.33"/><circle class="b" cx="733.7" cy="725.8" r="8.33"/><circle class="r" cx="584.2" cy="742.3" r="8.33"/><circle class="b" cx="570.6" cy="742.3" r="8.33"/>
<circle class="r" cx="601.3" cy="742.3" r="8.33"/><circle class="b" cx="651.6" cy="742.3" r="8.33"/><circle class="r" cx="733.7" cy="742.3" r="8.33"/><circle class="b" cx="570.6" cy="758.2" r="8.33"/>
<circle class="b" cx="615.3" cy="758.2" r="8.33"/><circle class="r" cx="633.2" cy="758.2" r="8.33"/><circle class="b" cx="633.2" cy="758.2" r="8.33"/><circle class="r" cx="507.0" cy="771.6" r="8.33"/>
<circle class="r" cx="544.4" cy="771.6" r="8.33"/><circle class="b" cx="651.6" cy="771.6" r="8.33"/><circle class="r" cx="733.7" cy="771.6" r="8.33"/><circle class="r" cx="633.2" cy="784.6" r="8.33"/>
<circle class="b" cx="651.6" cy="784.6" r="8.33"/><circle class="b" cx="670.5" cy="784.6" r="8.33"/><circle class="r" cx="709.4" cy="784.6" r="8.33"/><circle class="r" cx="544.4" cy="797.2" r="8.33"/>
<circle class="r" cx="557.3" cy="797.2" r="8.33"/><circle class="r" cx="570.6" cy="797.2" r="8.33"/><circle class="r" cx="584.2" cy="797.2" r="8.33"/><circle class="r" cx="601.3" cy="797.2" r="8.33"/>
<circle class="r" cx="615.3" cy="797.2" r="8.33"/><circle class="b" cx="615.3" cy="784.6" r="8.33"/><circle class="b" cx="651.6" cy="797.2" r="8.33"/><circle class="r" cx="557.3" cy="809.3" r="8.33"/>
<circle class="r" cx="584.2" cy="809.3" r="8.33"/><circle class="b" cx="633.2" cy="809.3" r="8.33"/><circle class="b" cx="544.4" cy="819.4" r="8.33"/><circle class="r" cx="557.3" cy="819.4" r="8.33"/>
<circle class="r" cx="584.2" cy="819.4" r="8.33"/><circle class="r" cx="670.5" cy="819.4" r="8.33"/><circle class="r" cx="207.6" cy="742.3" r="8.33"/><circle class="r" cx="275.1" cy="725.8" r="8.33"/>
<circle class="r" cx="286.8" cy="725.8" r="8.33"/><circle class="r" cx="280.8" cy="742.3" r="8.33"/><circle class="r" cx="309.2" cy="742.3" r="8.33"/><circle class="b" cx="303.0" cy="758.2" r="8.33"/>
<circle class="r" cx="309.2" cy="758.2" r="8.33"/><circle class="r" cx="227.8" cy="771.6" r="8.33"/><circle class="r" cx="236.4" cy="771.6" r="8.33"/><circle class="b" cx="271.1" cy="771.6" r="8.33"/>
<circle class="r" cx="280.8" cy="771.6" r="8.33"/><circle class="r" cx="286.8" cy="771.6" r="8.33"/><circle class="r" cx="250.7" cy="784.6" r="8.33"/><circle class="r" cx="259.9" cy="784.6" r="8.33"/>
<circle class="r" cx="265.5" cy="784.6" r="8.33"/><circle class="r" cx="298.9" cy="784.6" r="8.33"/><circle class="b" cx="224.1" cy="797.2" r="8.33"/><circle class="r" cx="271.1" cy="797.2" r="8.33"/>
<circle class="r" cx="309.2" cy="797.2" r="8.33"/><circle class="b" cx="303.0" cy="797.2" r="8.33"/><circle class="b" cx="256.2" cy="819.4" r="8.33"/><circle class="r" cx="211.1" cy="809.3" r="8.33"/>
<circle class="r" cx="232.9" cy="809.3" r="8.33"/><circle class="b" cx="241.4" cy="809.3" r="8.33"/><circle class="r" cx="241.4" cy="809.3" r="8.33"/><circle class="r" cx="256.2" cy="809.3" r="8.33"/>
<circle class="r" cx="271.1" cy="809.3" r="8.33"/><circle class="r" cx="298.9" cy="809.3" r="8.33"/><circle class="r" cx="303.0" cy="809.3" r="8.33"/><circle class="b" cx="286.8" cy="819.4" r="8.33"/>
<circle class="r" cx="241.4" cy="819.4" r="8.33"/><circle class="r" cx="298.9" cy="819.4" r="8.33"/><circle class="r" cx="203.0" cy="829.2" r="8.33"/><circle class="r" cx="215.7" cy="838.8" r="8.33"/>
<circle class="b" cx="215.7" cy="829.2" r="8.33"/><circle class="b" cx="265.5" cy="829.2" r="8.33"/><circle class="r" cx="250.7" cy="829.2" r="8.33"/><circle class="r" cx="280.8" cy="829.2" r="8.33"/>
<circle class="r" cx="290.8" cy="829.2" r="8.33"/><circle class="b" cx="241.4" cy="846.5" r="8.33"/><circle class="r" cx="241.4" cy="838.8" r="8.33"/><circle class="r" cx="275.1" cy="838.8" r="8.33"/>
<circle class="r" cx="271.1" cy="838.8" r="8.33"/><circle class="r" cx="232.9" cy="846.5" r="8.33"/><circle class="r" cx="256.2" cy="846.5" r="8.33"/><circle class="r" cx="286.8" cy="846.5" r="8.33"/>
<circle class="r" cx="207.6" cy="855.6" r="8.33"/><circle class="r" cx="271.1" cy="855.6" r="8.33"/><circle class="r" cx="303.0" cy="860.0" r="8.33"/><circle class="b" cx="211.1" cy="860.0" r="8.33"/>
<circle class="b" cx="219.3" cy="860.0" r="8.33"/><circle class="b" cx="227.8" cy="860.0" r="8.33"/><circle class="b" cx="236.4" cy="860.0" r="8.33"/><circle class="b" cx="246.9" cy="860.0" r="8.33"/>
<circle class="b" cx="256.2" cy="860.0" r="8.33"/><circle class="b" cx="286.8" cy="860.0" r="8.33"/><circle class="b" cx="309.2" cy="860.0" r="8.33"/><circle class="r" cx="367.3" cy="706.5" r="8.33"/>
<circle class="r" cx="339.5" cy="758.2" r="8.33"/><circle class="r" cx="414.4" cy="758.2" r="8.33"/><circle class="r" cx="319.9" cy="771.6" r="8.33"/><circle class="r" cx="346.3" cy="771.6" r="8.33"/>
<circle class="b" cx="352.9" cy="771.6" r="8.33"/><circle class="r" cx="374.2" cy="771.6" r="8.33"/><circle class="r" cx="391.5" cy="771.6" r="8.33"/><circle class="b" cx="359.6" cy="784.6" r="8.33"/>
<circle class="b" cx="367.3" cy="784.6" r="8.33"/><circle class="r" cx="414.4" cy="784.6" r="8.33"/><circle class="r" cx="326.3" cy="797.2" r="8.33"/><circle class="b" cx="346.3" cy="797.2" r="8.33"/>
<circle class="b" cx="432.8" cy="742.3" r="8.33"/><circle class="r" cx="483.0" cy="758.2" r="8.33"/><circle class="r" cx="451.9" cy="771.6" r="8.33"/><circle class="r" cx="424.8" cy="784.6" r="8.33"/>
<circle class="r" cx="463.1" cy="797.2" r="8.33"/><circle class="r" cx="346.3" cy="809.3" r="8.33"/><circle class="r" cx="333.0" cy="819.4" r="8.33"/><circle class="r" cx="315.6" cy="819.4" r="8.33"/>
<circle class="b" cx="319.9" cy="809.3" r="8.33"/><circle class="b" cx="333.0" cy="809.3" r="8.33"/><circle class="r" cx="406.6" cy="809.3" r="8.33"/><circle class="b" cx="399.5" cy="809.3" r="8.33"/>
<circle class="r" cx="374.2" cy="819.4" r="8.33"/><circle class="r" cx="381.7" cy="819.4" r="8.33"/><circle class="b" cx="391.5" cy="819.4" r="8.33"/><circle class="r" cx="315.6" cy="829.2" r="8.33"/>
<circle class="r" cx="346.3" cy="829.2" r="8.33"/><circle class="b" cx="352.9" cy="829.2" r="8.33"/><circle class="b" cx="359.6" cy="829.2" r="8.33"/><circle class="r" cx="414.4" cy="829.2" r="8.33"/>
<circle class="b" cx="339.5" cy="846.5" r="8.33"/><circle class="r" cx="339.5" cy="838.8" r="8.33"/><circle class="b" cx="414.4" cy="838.8" r="8.33"/><circle class="r" cx="315.6" cy="846.5" r="8.33"/>
<circle class="b" cx="309.2" cy="846.5" r="8.33"/><circle class="r" cx="346.3" cy="846.5" r="8.33"/><circle class="b" cx="352.9" cy="838.8" r="8.33"/><circle class="r" cx="367.3" cy="846.5" r="8.33"/>
<circle class="r" cx="374.2" cy="846.5" r="8.33"/><circle class="r" cx="391.5" cy="846.5" r="8.33"/><circle class="r" cx="406.6" cy="846.5" r="8.33"/><circle class="r" cx="424.8" cy="846.5" r="8.33"/>
<circle class="r" cx="326.3" cy="855.6" r="8.33"/><circle class="r" cx="346.3" cy="855.6" r="8.33"/><circle class="r" cx="352.9" cy="855.6" r="8.33"/><circle class="r" cx="359.6" cy="855.6" r="8.33"/>
<circle class="b" cx="367.3" cy="855.6" r="8.33"/><circle class="r" cx="367.3" cy="855.6" r="8.33"/><circle class="r" cx="374.2" cy="855.6" r="8.33"/><circle class="r" cx="381.7" cy="855.6" r="8.33"/>
<circle class="r" cx="326.3" cy="860.0" r="8.33"/><circle class="r" cx="352.9" cy="860.0" r="8.33"/><circle class="r" cx="367.3" cy="860.0" r="8.33"/><circle class="r" cx="381.7" cy="860.0" r="8.33"/>
<circle class="r" cx="414.4" cy="860.0" r="8.33"/><circle class="b" cx="339.5" cy="860.0" r="8.33"/><circle class="b" cx="442.3" cy="819.4" r="8.33"/><circle class="b" cx="442.3" cy="838.8" r="8.33"/>
<circle class="r" cx="451.9" cy="829.2" r="8.33"/><circle class="r" cx="442.3" cy="829.2" r="8.33"/><circle class="r" cx="495.1" cy="819.4" r="8.33"/><circle class="r" cx="507.0" cy="809.3" r="8.33"/>
<circle class="b" cx="483.0" cy="829.2" r="8.33"/><circle class="r" cx="471.7" cy="829.2" r="8.33"/><circle class="b" cx="495.1" cy="829.2" r="8.33"/><circle class="b" cx="507.0" cy="829.2" r="8.33"/>
<circle class="r" cx="507.0" cy="829.2" r="8.33"/><circle class="b" cx="531.7" cy="829.2" r="8.33"/><circle class="r" cx="451.9" cy="838.8" r="8.33"/><circle class="b" cx="442.3" cy="846.5" r="8.33"/>
<circle class="b" cx="442.3" cy="855.6" r="8.33"/><circle class="r" cx="483.0" cy="846.5" r="8.33"/><circle class="b" cx="507.0" cy="846.5" r="8.33"/><circle class="r" cx="516.2" cy="846.5" r="8.33"/>
<circle class="b" cx="531.7" cy="846.5" r="8.33"/><circle class="r" cx="463.1" cy="855.6" r="8.33"/><circle class="r" cx="471.7" cy="855.6" r="8.33"/><circle class="r" cx="483.0" cy="860.0" r="8.33"/>
<circle class="b" cx="471.7" cy="860.0" r="8.33"/><circle class="r" cx="507.0" cy="860.0" r="8.33"/><circle class="b" cx="516.2" cy="860.0" r="8.33"/><circle class="r" cx="516.2" cy="860.0" r="8.33"/>
<circle class="b" cx="495.1" cy="870.1" r="8.33"/><circle class="b" cx="495.1" cy="855.6" r="8.33"/><circle class="r" cx="424.8" cy="860.0" r="8.33"/><circle class="b" cx="451.9" cy="870.1" r="8.33"/>
<circle class="b" cx="557.3" cy="829.2" r="8.33"/><circle class="r" cx="557.3" cy="829.2" r="8.33"/><circle class="r" cx="570.6" cy="829.2" r="8.33"/><circle class="r" cx="584.2" cy="829.2" r="8.33"/>
<circle class="r" cx="544.4" cy="838.8" r="8.33"/><circle class="r" cx="570.6" cy="838.8" r="8.33"/><circle class="r" cx="584.2" cy="838.8" r="8.33"/><circle class="b" cx="633.2" cy="838.8" r="8.33"/>
<circle class="r" cx="557.3" cy="846.5" r="8.33"/><circle class="r" cx="570.6" cy="846.5" r="8.33"/><circle class="r" cx="531.7" cy="870.1" r="8.33"/><circle class="r" cx="531.7" cy="877.1" r="8.33"/>
<circle class="b" cx="531.7" cy="860.0" r="8.33"/><circle class="b" cx="633.2" cy="860.0" r="8.33"/><circle class="r" cx="544.4" cy="870.1" r="8.33"/><circle class="r" cx="633.2" cy="884.0" r="8.33"/>
<circle class="r" cx="203.0" cy="890.6" r="8.33"/><circle class="r" cx="203.0" cy="907.3" r="8.33"/><circle class="b" cx="211.1" cy="877.1" r="8.33"/><circle class="b" cx="246.9" cy="877.1" r="8.33"/>
<circle class="b" cx="219.3" cy="895.9" r="8.33"/><circle class="b" cx="224.1" cy="895.9" r="8.33"/><circle class="b" cx="207.6" cy="902.2" r="8.33"/><circle class="b" cx="227.8" cy="907.3" r="8.33"/>
<circle class="b" cx="219.3" cy="907.3" r="8.33"/><circle class="b" cx="215.7" cy="912.3" r="8.33"/><circle class="b" cx="241.4" cy="890.6" r="8.33"/><circle class="b" cx="256.2" cy="907.3" r="8.33"/>
<circle class="b" cx="271.1" cy="895.9" r="8.33"/><circle class="b" cx="280.8" cy="895.9" r="8.33"/><circle class="b" cx="303.0" cy="895.9" r="8.33"/><circle class="b" cx="309.2" cy="895.9" r="8.33"/>
<circle class="b" cx="298.9" cy="890.6" r="8.33"/><circle class="b" cx="290.8" cy="902.2" r="8.33"/><circle class="b" cx="227.8" cy="921.8" r="8.33"/><circle class="b" cx="246.9" cy="921.8" r="8.33"/>
<circle class="b" cx="246.9" cy="927.6" r="8.33"/><circle class="b" cx="232.9" cy="927.6" r="8.33"/><circle class="b" cx="227.8" cy="931.0" r="8.33"/><circle class="b" cx="203.0" cy="931.0" r="8.33"/>
<circle class="b" cx="203.0" cy="947.4" r="8.33"/><circle class="b" cx="207.6" cy="965.5" r="8.33"/><circle class="b" cx="241.4" cy="958.7" r="8.33"/><circle class="b" cx="232.9" cy="955.1" r="8.33"/>
<circle class="b" cx="265.5" cy="955.1" r="8.33"/><circle class="b" cx="265.5" cy="947.4" r="8.33"/><circle class="b" cx="280.8" cy="939.9" r="8.33"/><circle class="b" cx="298.9" cy="931.0" r="8.33"/>
<circle class="b" cx="303.0" cy="971.1" r="8.33"/><circle class="b" cx="315.6" cy="917.1" r="8.33"/><circle class="b" cx="315.6" cy="935.5" r="8.33"/><circle class="b" cx="236.4" cy="971.1" r="8.33"/>
<circle class="r" cx="215.7" cy="917.1" r="8.33"/><circle class="r" cx="259.9" cy="895.9" r="8.33"/><circle class="r" cx="271.1" cy="912.3" r="8.33"/><circle class="r" cx="275.1" cy="907.3" r="8.33"/>
<circle class="r" cx="271.1" cy="884.0" r="8.33"/><circle class="r" cx="241.4" cy="939.9" r="8.33"/><circle class="r" cx="215.7" cy="947.4" r="8.33"/><circle class="r" cx="298.9" cy="935.5" r="8.33"/>
<circle class="b" cx="298.9" cy="944.2" r="8.33"/><circle class="r" cx="303.0" cy="951.6" r="8.33"/><circle class="r" cx="207.6" cy="955.1" r="8.33"/><circle class="r" cx="207.6" cy="974.1" r="8.33"/>
<circle class="r" cx="207.6" cy="931.0" r="8.33"/><circle class="r" cx="224.1" cy="971.1" r="8.33"/><circle class="r" cx="250.7" cy="968.4" r="8.33"/><circle class="r" cx="256.2" cy="958.7" r="8.33"/>
<circle class="b" cx="319.9" cy="877.1" r="8.33"/><circle class="b" cx="319.9" cy="895.9" r="8.33"/><circle class="r" cx="319.9" cy="902.2" r="8.33"/><circle class="b" cx="339.5" cy="895.9" r="8.33"/>
<circle class="r" cx="346.3" cy="895.9" r="8.33"/><circle class="b" cx="367.3" cy="884.0" r="8.33"/><circle class="r" cx="367.3" cy="890.6" r="8.33"/><circle class="b" cx="367.3" cy="895.9" r="8.33"/>
<circle class="b" cx="359.6" cy="902.2" r="8.33"/><circle class="r" cx="367.3" cy="902.2" r="8.33"/><circle class="r" cx="352.9" cy="895.9" r="8.33"/><circle class="r" cx="352.9" cy="912.3" r="8.33"/>
<circle class="b" cx="391.5" cy="890.6" r="8.33"/><circle class="r" cx="399.5" cy="890.6" r="8.33"/><circle class="b" cx="367.3" cy="931.0" r="8.33"/><circle class="b" cx="374.2" cy="935.5" r="8.33"/>
<circle class="r" cx="381.7" cy="927.6" r="8.33"/><circle class="r" cx="367.3" cy="944.2" r="8.33"/><circle class="b" cx="352.9" cy="921.8" r="8.33"/><circle class="b" cx="367.3" cy="921.8" r="8.33"/>
<circle class="b" cx="352.9" cy="939.9" r="8.33"/><circle class="r" cx="346.3" cy="947.4" r="8.33"/><circle class="b" cx="424.8" cy="939.9" r="8.33"/><circle class="b" cx="303.0" cy="927.6" r="8.33"/>
<circle class="r" cx="303.0" cy="935.5" r="8.33"/><circle class="b" cx="309.2" cy="935.5" r="8.33"/><circle class="r" cx="315.6" cy="931.0" r="8.33"/><circle class="r" cx="315.6" cy="944.2" r="8.33"/>
<circle class="b" cx="326.3" cy="935.5" r="8.33"/><circle class="r" cx="333.0" cy="935.5" r="8.33"/><circle class="r" cx="326.3" cy="927.6" r="8.33"/><circle class="r" cx="326.3" cy="944.2" r="8.33"/>
<circle class="b" cx="303.0" cy="968.4" r="8.33"/><circle class="b" cx="326.3" cy="955.1" r="8.33"/><circle class="r" cx="333.0" cy="955.1" r="8.33"/><circle class="r" cx="319.9" cy="955.1" r="8.33"/>
<circle class="b" cx="339.5" cy="968.4" r="8.33"/><circle class="r" cx="333.0" cy="968.4" r="8.33"/><circle class="r" cx="346.3" cy="961.6" r="8.33"/><circle class="r" cx="374.2" cy="947.4" r="8.33"/>
<circle class="r" cx="391.5" cy="947.4" r="8.33"/><circle class="r" cx="381.7" cy="939.9" r="8.33"/><circle class="b" cx="399.5" cy="917.1" r="8.33"/><circle class="b" cx="399.5" cy="935.5" r="8.33"/>
<circle class="r" cx="199.8" cy="1045.5" r="8.33"/><circle class="b" cx="203.0" cy="1044.3" r="8.33"/><circle class="b" cx="207.6" cy="1042.6" r="8.33"/><circle class="b" cx="211.1" cy="1041.3" r="8.33"/>
<circle class="r" cx="215.7" cy="1039.6" r="8.33"/><circle class="b" cx="219.3" cy="1038.2" r="8.33"/><circle class="b" cx="224.1" cy="1036.4" r="8.33"/><circle class="b" cx="227.8" cy="1035.1" r="8.33"/>
<circle class="b" cx="232.9" cy="1033.2" r="8.33"/><circle class="b" cx="236.4" cy="1031.9" r="8.33"/><circle class="r" cx="250.7" cy="1026.5" r="8.33"/><circle class="b" cx="246.9" cy="1028.0" r="8.33"/>
<circle class="r" cx="241.4" cy="1030.0" r="8.33"/><circle class="r" cx="256.2" cy="1024.5" r="8.33"/><circle class="r" cx="259.9" cy="1023.1" r="8.33"/><circle class="r" cx="265.5" cy="1021.0" r="8.33"/>
<circle class="b" cx="271.1" cy="1019.0" r="8.33"/><circle class="b" cx="275.1" cy="1017.5" r="8.33"/><circle class="r" cx="280.8" cy="1015.3" r="8.33"/><circle class="r" cx="286.8" cy="1013.1" r="8.33"/>
<circle class="r" cx="290.8" cy="1011.6" r="8.33"/><circle class="b" cx="303.0" cy="1007.0" r="8.33"/><circle class="r" cx="298.9" cy="1008.6" r="8.33"/><circle class="b" cx="309.2" cy="1004.8" r="8.33"/>
<circle class="b" cx="315.6" cy="1002.4" r="8.33"/><circle class="b" cx="319.9" cy="1000.8" r="8.33"/><circle class="b" cx="333.0" cy="995.9" r="8.33"/><circle class="r" cx="326.3" cy="998.4" r="8.33"/>
<circle class="b" cx="339.5" cy="993.5" r="8.33"/><circle class="b" cx="346.3" cy="990.9" r="8.33"/><circle class="r" cx="352.9" cy="988.5" r="8.33"/><circle class="b" cx="352.9" cy="988.5" r="8.33"/>
<circle class="r" cx="367.3" cy="983.1" r="8.33"/><circle class="b" cx="367.3" cy="983.1" r="8.33"/><circle class="b" cx="359.6" cy="986.0" r="8.33"/><circle class="r" cx="374.2" cy="980.5" r="8.33"/>
<circle class="r" cx="381.7" cy="977.7" r="8.33"/><circle class="b" cx="399.5" cy="971.1" r="8.33"/><circle class="r" cx="391.5" cy="974.1" r="8.33"/><circle class="b" cx="406.6" cy="968.4" r="8.33"/>
<circle class="b" cx="414.4" cy="965.5" r="8.33"/><circle class="b" cx="424.8" cy="961.6" r="8.33"/><circle class="b" cx="432.8" cy="958.7" r="8.33"/><circle class="r" cx="442.3" cy="955.1" r="8.33"/>
<circle class="b" cx="451.9" cy="951.6" r="8.33"/><circle class="b" cx="471.7" cy="944.2" r="8.33"/><circle class="r" cx="463.1" cy="947.4" r="8.33"/><circle class="b" cx="483.0" cy="939.9" r="8.33"/>
<circle class="r" cx="495.1" cy="935.5" r="8.33"/><circle class="r" cx="516.2" cy="927.6" r="8.33"/><circle class="b" cx="507.0" cy="931.0" r="8.33"/><circle class="r" cx="531.7" cy="921.8" r="8.33"/>
<circle class="r" cx="544.4" cy="917.1" r="8.33"/><circle class="r" cx="557.3" cy="912.3" r="8.33"/><circle class="r" cx="570.6" cy="907.3" r="8.33"/><circle class="r" cx="584.2" cy="902.2" r="8.33"/>
<circle class="r" cx="601.3" cy="895.9" r="8.33"/><circle class="b" cx="615.3" cy="890.6" r="8.33"/><circle class="r" cx="615.3" cy="890.6" r="8.33"/><circle class="b" cx="633.2" cy="884.0" r="8.33"/>
<circle class="r" cx="633.2" cy="884.0" r="8.33"/><circle class="r" cx="651.6" cy="877.1" r="8.33"/><circle class="r" cx="670.5" cy="870.1" r="8.33"/><circle class="r" cx="709.4" cy="855.6" r="8.33"/>
<circle class="b" cx="697.5" cy="860.0" r="8.33"/><circle class="b" cx="203.0" cy="988.5" r="8.33"/><circle class="b" cx="203.0" cy="1004.8" r="8.33"/><circle class="b" cx="219.3" cy="983.1" r="8.33"/>
<circle class="b" cx="224.1" cy="988.5" r="8.33"/><circle class="b" cx="219.3" cy="1002.4" r="8.33"/><circle class="r" cx="203.0" cy="1017.5" r="8.33"/><circle class="b" cx="224.1" cy="1015.3" r="8.33"/>
<circle class="b" cx="227.8" cy="1015.3" r="8.33"/><circle class="b" cx="246.9" cy="977.7" r="8.33"/><circle class="b" cx="256.2" cy="977.7" r="8.33"/><circle class="b" cx="265.5" cy="1004.8" r="8.33"/>
<circle class="r" cx="232.9" cy="995.9" r="8.33"/><circle class="r" cx="241.4" cy="990.9" r="8.33"/><circle class="r" cx="250.7" cy="998.4" r="8.33"/><circle class="r" cx="241.4" cy="1004.8" r="8.33"/>
<circle class="r" cx="211.1" cy="993.5" r="8.33"/><circle class="r" cx="246.9" cy="968.4" r="8.33"/><circle class="r" cx="256.2" cy="968.4" r="8.33"/><circle class="r" cx="271.1" cy="983.1" r="8.33"/>
<circle class="r" cx="275.1" cy="995.9" r="8.33"/><circle class="r" cx="280.8" cy="993.5" r="8.33"/><circle class="b" cx="290.8" cy="990.9" r="8.33"/><circle class="b" cx="286.8" cy="980.5" r="8.33"/>
<circle class="r" cx="298.9" cy="998.4" r="8.33"/><circle class="r" cx="298.9" cy="983.1" r="8.33"/><circle class="r" cx="309.2" cy="977.7" r="8.33"/><circle class="r" cx="309.2" cy="988.5" r="8.33"/>
<circle class="r" cx="319.9" cy="974.1" r="8.33"/><circle class="r" cx="319.9" cy="983.1" r="8.33"/><circle class="b" cx="333.0" cy="974.1" r="8.33"/><circle class="b" cx="507.0" cy="884.0" r="8.33"/>
<circle class="r" cx="507.0" cy="890.6" r="8.33"/><circle class="r" cx="516.2" cy="912.3" r="8.33"/><circle class="b" cx="483.0" cy="877.1" r="8.33"/><circle class="b" cx="463.1" cy="877.1" r="8.33"/>
<circle class="r" cx="463.1" cy="884.0" r="8.33"/><circle class="r" cx="471.7" cy="890.6" r="8.33"/><circle class="r" cx="471.7" cy="895.9" r="8.33"/><circle class="r" cx="451.9" cy="890.6" r="8.33"/>
<circle class="r" cx="442.3" cy="870.1" r="8.33"/><circle class="r" cx="451.9" cy="877.1" r="8.33"/><circle class="b" cx="442.3" cy="895.9" r="8.33"/><circle class="b" cx="442.3" cy="902.2" r="8.33"/>
<circle class="r" cx="451.9" cy="895.9" r="8.33"/><circle class="r" cx="451.9" cy="902.2" r="8.33"/><circle class="r" cx="432.8" cy="902.2" r="8.33"/><circle class="r" cx="432.8" cy="890.6" r="8.33"/>
<circle class="b" cx="424.8" cy="927.6" r="8.33"/><circle class="b" cx="414.4" cy="939.9" r="8.33"/><circle class="r" cx="406.6" cy="939.9" r="8.33"/><circle class="r" cx="495.1" cy="927.6" r="8.33"/>
<circle class="b" cx="333.0" cy="971.1" r="8.33"/><circle class="b" cx="339.5" cy="965.5" r="8.33"/><circle class="b" cx="346.3" cy="971.1" r="8.33"/><circle class="r" cx="339.5" cy="958.7" r="8.33"/>
<circle class="r" cx="352.9" cy="958.7" r="8.33"/><circle class="r" cx="359.6" cy="931.0" r="8.33"/><circle class="b" cx="414.4" cy="944.2" r="8.33"/><circle class="r" cx="424.8" cy="939.9" r="8.33"/>
<circle class="r" cx="432.8" cy="939.9" r="8.33"/><circle class="r" cx="451.9" cy="939.9" r="8.33"/><circle class="r" cx="381.7" cy="951.6" r="8.33"/><circle class="b" cx="442.3" cy="907.3" r="8.33"/>
<circle class="r" cx="451.9" cy="912.3" r="8.33"/><circle class="r" cx="414.4" cy="921.8" r="8.33"/><circle class="r" cx="414.4" cy="931.0" r="8.33"/><circle class="r" cx="424.8" cy="931.0" r="8.33"/>
<circle class="b" cx="424.8" cy="917.1" r="8.33"/><circle class="b" cx="432.8" cy="917.1" r="8.33"/><circle class="b" cx="359.6" cy="955.1" r="8.33"/><circle class="r" cx="367.3" cy="968.4" r="8.33"/>
<circle class="r" cx="224.1" cy="877.1" r="8.33"/><circle class="r" cx="232.9" cy="877.1" r="8.33"/><circle class="r" cx="275.1" cy="877.1" r="8.33"/><circle class="r" cx="280.8" cy="877.1" r="8.33"/>
<circle class="r" cx="303.0" cy="877.1" r="8.33"/><circle class="r" cx="309.2" cy="877.1" r="8.33"/><circle class="b" cx="246.9" cy="870.1" r="8.33"/><circle class="b" cx="265.5" cy="870.1" r="8.33"/>
<circle class="b" cx="290.8" cy="870.1" r="8.33"/>
</g>
<g stroke="#000" stroke-width="3.40" fill="none">
<line x1="199.85" y1="1095.00" x2="199.85" y2="1109.60"/>
<line x1="366.24" y1="1095.00" x2="366.24" y2="1109.60"/>
<line x1="532.63" y1="1095.00" x2="532.63" y2="1109.60"/>
<line x1="699.02" y1="1095.00" x2="699.02" y2="1109.60"/>
<line x1="865.41" y1="1095.00" x2="865.41" y2="1109.60"/>
<line x1="1031.80" y1="1095.00" x2="1031.80" y2="1109.60"/>
<line x1="1198.19" y1="1095.00" x2="1198.19" y2="1109.60"/>
<line x1="1364.58" y1="1095.00" x2="1364.58" y2="1109.60"/>
<line x1="1530.97" y1="1095.00" x2="1530.97" y2="1109.60"/>
<line x1="133.10" y1="1045.50" x2="118.50" y2="1045.50"/>
<line x1="133.10" y1="921.46" x2="118.50" y2="921.46"/>
<line x1="133.10" y1="797.42" x2="118.50" y2="797.42"/>
<line x1="133.10" y1="673.38" x2="118.50" y2="673.38"/>
<line x1="133.10" y1="549.34" x2="118.50" y2="549.34"/>
<line x1="133.10" y1="425.30" x2="118.50" y2="425.30"/>
<line x1="133.10" y1="301.26" x2="118.50" y2="301.26"/>
<line x1="133.10" y1="177.22" x2="118.50" y2="177.22"/>
<line x1="133.10" y1="53.18" x2="118.50" y2="53.18"/>
<rect x="133.10" y="2.50" width="1467.10" height="1092.50" stroke-linejoin="miter"/>
</g>
<g class="t" text-anchor="middle">
<text x="199.85" y="1154.90">0.0</text>
<text x="366.24" y="1154.90">0.5</text>
<text x="532.63" y="1154.90">1.0</text>
<text x="699.02" y="1154.90">1.5</text>
<text x="865.41" y="1154.90">2.0</text>
<text x="1031.80" y="1154.90">2.5</text>
<text x="1198.19" y="1154.90">3.0</text>
<text x="1364.58" y="1154.90">3.5</text>
<text x="1530.97" y="1154.90">4.0</text>
</g>
<g class="t" text-anchor="end">
<text x="104.60" y="1061.30">0</text>
<text x="104.60" y="937.26">1</text>
<text x="104.60" y="813.22">2</text>
<text x="104.60" y="689.18">3</text>
<text x="104.60" y="565.14">4</text>
<text x="104.60" y="441.10">5</text>
<text x="104.60" y="317.06">6</text>
<text x="104.60" y="193.02">7</text>
<text x="104.60" y="68.98">8</text>
</g>
<g class="m"><text x="847.5" y="1217.8" font-size="41.67">z</text><text x="871.5" y="1201.5" font-size="29.17">f</text><text x="869.6" y="1229" font-size="29.17">j</text></g>
<g class="m" transform="translate(0,0)"><text transform="translate(38.3,565.3) rotate(-90)" font-size="41.67">z</text><text transform="translate(22,542.0) rotate(-90)" font-size="29.17">i</text><text transform="translate(49,543.6) rotate(-90)" font-size="29.17">j</text></g>
<circle class="r" cx="1202.0" cy="56.1" r="8.33"/>
<circle class="b" cx="1202.0" cy="116.4" r="8.33"/>
<text class="t" x="1275.50" y="70.20" letter-spacing="-0.23">red satellites</text>
<text class="t" x="1275.50" y="130.20" letter-spacing="-0.23">blue satellites</text>
</svg>
</body>
</html>
